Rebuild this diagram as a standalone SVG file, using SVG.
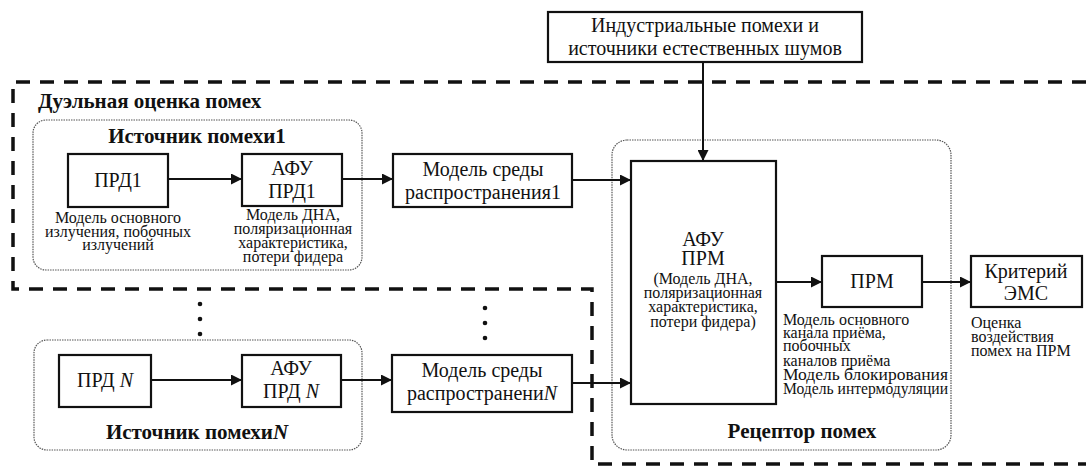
<svg xmlns="http://www.w3.org/2000/svg" width="1086" height="468" viewBox="0 0 1086 468">
<defs>
  <marker id="arr" viewBox="0 0 10 10" refX="10" refY="5" markerWidth="11" markerHeight="11" markerUnits="userSpaceOnUse" orient="auto">
    <path d="M0,0 L10,5 L0,10 z" fill="#111"/>
  </marker>
</defs>
<rect width="1086" height="468" fill="#fff"/>

<g id="boundary">
  <path d="M1086,82 L13,82 L13,289 L592,289 L592,464 L1086,464" fill="none" stroke="#111" stroke-width="3.5" stroke-dasharray="14 10"/>
  <text x="38" y="108" font-family="Times New Roman, Liberation Serif, Noto Serif CJK SC, serif" font-size="21" font-weight="bold" fill="#111">Дуэльная оценка помех</text>
</g>

<g id="ellipsis" fill="#111">
  <circle cx="200" cy="304" r="2.3"/>
  <circle cx="200" cy="319" r="2.3"/>
  <circle cx="200" cy="334" r="2.3"/>
  <circle cx="485" cy="308" r="2.3"/>
  <circle cx="485" cy="323" r="2.3"/>
  <circle cx="485" cy="338" r="2.3"/>
</g>

<g id="source1">
  <rect x="33" y="120" width="329" height="150" rx="13" fill="none" stroke="#555" stroke-width="1.2" stroke-dasharray="1.5 1"/>
  <text x="197" y="143" text-anchor="middle" font-family="Times New Roman, Liberation Serif, Noto Serif CJK SC, serif" font-size="21" font-weight="bold" fill="#111">Источник помехи1</text>
</g>
<g id="sourceN">
  <rect x="34" y="340" width="328" height="110" rx="13" fill="none" stroke="#555" stroke-width="1.2" stroke-dasharray="1.5 1"/>
  <text x="197" y="439" text-anchor="middle" font-family="Times New Roman, Liberation Serif, Noto Serif CJK SC, serif" font-size="21" font-weight="bold" fill="#111">Источник помехи<tspan font-style="italic">N</tspan></text>
</g>
<g id="receptor">
  <rect x="612" y="140" width="339" height="310" rx="15" fill="none" stroke="#555" stroke-width="1.2" stroke-dasharray="1.5 1"/>
  <text x="802" y="438" text-anchor="middle" font-family="Times New Roman, Liberation Serif, Noto Serif CJK SC, serif" font-size="21" font-weight="bold" fill="#111">Рецептор помех</text>
</g>

<g id="prd1">
  <rect x="68" y="154" width="100" height="53" fill="#fff" stroke="#111" stroke-width="2.2"/>
  <text x="118" y="187" text-anchor="middle" font-family="Times New Roman, Liberation Serif, Noto Serif CJK SC, serif" font-size="20" fill="#111">ПРД1</text>
  <text text-anchor="middle" font-family="Times New Roman, Liberation Serif, Noto Serif CJK SC, serif" font-size="16" fill="#111"><tspan x="118" y="223">Модель основного</tspan><tspan x="118" y="237">излучения, побочных</tspan><tspan x="118" y="250">излучений</tspan></text>
</g>
<g id="afu1">
  <rect x="242" y="154" width="100" height="52" fill="#fff" stroke="#111" stroke-width="2.2"/>
  <text text-anchor="middle" font-family="Times New Roman, Liberation Serif, Noto Serif CJK SC, serif" font-size="20" fill="#111"><tspan x="292" y="175">АФУ</tspan><tspan x="292" y="198">ПРД1</tspan></text>
  <text text-anchor="middle" font-family="Times New Roman, Liberation Serif, Noto Serif CJK SC, serif" font-size="16" fill="#111"><tspan x="293" y="220">Модель ДНА,</tspan><tspan x="293" y="234">поляризационная</tspan><tspan x="293" y="248">характеристика,</tspan><tspan x="293" y="262">потери фидера</tspan></text>
</g>
<g id="env1">
  <rect x="393" y="154" width="179" height="53" fill="#fff" stroke="#111" stroke-width="2.2"/>
  <text text-anchor="middle" font-family="Times New Roman, Liberation Serif, Noto Serif CJK SC, serif" font-size="20" fill="#111"><tspan x="483" y="176">Модель среды</tspan><tspan x="483" y="199">распространения1</tspan></text>
</g>

<g id="prdN">
  <rect x="59" y="355" width="92" height="52" fill="#fff" stroke="#111" stroke-width="2.2"/>
  <text x="105" y="387" text-anchor="middle" font-family="Times New Roman, Liberation Serif, Noto Serif CJK SC, serif" font-size="20" fill="#111">ПРД <tspan font-style="italic">N</tspan></text>
</g>
<g id="afuN">
  <rect x="242" y="355" width="99" height="52" fill="#fff" stroke="#111" stroke-width="2.2"/>
  <text text-anchor="middle" font-family="Times New Roman, Liberation Serif, Noto Serif CJK SC, serif" font-size="20" fill="#111"><tspan x="291" y="375">АФУ</tspan><tspan x="291" y="398">ПРД <tspan font-style="italic">N</tspan></tspan></text>
</g>
<g id="envN">
  <rect x="392" y="355" width="180" height="57" fill="#fff" stroke="#111" stroke-width="2.2"/>
  <text text-anchor="middle" font-family="Times New Roman, Liberation Serif, Noto Serif CJK SC, serif" font-size="20" fill="#111"><tspan x="482" y="377">Модель среды</tspan><tspan x="482" y="400">распространени<tspan font-style="italic">N</tspan></tspan></text>
</g>

<g id="industrial">
  <rect x="548" y="12" width="314" height="50" fill="#fff" stroke="#111" stroke-width="2.2"/>
  <text text-anchor="middle" font-family="Times New Roman, Liberation Serif, Noto Serif CJK SC, serif" font-size="20" fill="#111"><tspan x="705" y="32">Индустриальные помехи и</tspan><tspan x="705" y="55">источники естественных шумов</tspan></text>
</g>

<g id="afuPrm">
  <rect x="631" y="161" width="145" height="243" fill="#fff" stroke="#111" stroke-width="2.2"/>
  <text text-anchor="middle" font-family="Times New Roman, Liberation Serif, Noto Serif CJK SC, serif" font-size="20" fill="#111"><tspan x="703" y="246">АФУ</tspan><tspan x="703" y="265">ПРМ</tspan></text>
  <text text-anchor="middle" font-family="Times New Roman, Liberation Serif, Noto Serif CJK SC, serif" font-size="16" fill="#111"><tspan x="703" y="284">(Модель ДНА,</tspan><tspan x="703" y="298">поляризационная</tspan><tspan x="703" y="312">характеристика,</tspan><tspan x="703" y="327">потери фидера)</tspan></text>
</g>

<g id="prm">
  <rect x="822" y="256" width="100" height="51" fill="#fff" stroke="#111" stroke-width="2.2"/>
  <text x="872" y="288" text-anchor="middle" font-family="Times New Roman, Liberation Serif, Noto Serif CJK SC, serif" font-size="20" fill="#111">ПРМ</text>
  <text font-family="Times New Roman, Liberation Serif, Noto Serif CJK SC, serif" font-size="16" fill="#111"><tspan x="783" y="325">Модель основного</tspan><tspan x="783" y="338">канала приёма,</tspan><tspan x="783" y="351">побочных</tspan><tspan x="783" y="366">каналов приёма</tspan><tspan x="783" y="380" textLength="165" lengthAdjust="spacingAndGlyphs">Модель блокирования</tspan><tspan x="783" y="394" textLength="165" lengthAdjust="spacingAndGlyphs">Модель интермодуляции</tspan></text>
</g>

<g id="ems">
  <rect x="971" y="256" width="111" height="51" fill="#fff" stroke="#111" stroke-width="2.2"/>
  <text text-anchor="middle" font-family="Times New Roman, Liberation Serif, Noto Serif CJK SC, serif" font-size="20" fill="#111"><tspan x="1026" y="278">Критерий</tspan><tspan x="1026" y="300">ЭМС</tspan></text>
  <text font-family="Times New Roman, Liberation Serif, Noto Serif CJK SC, serif" font-size="16" fill="#111"><tspan x="971" y="328">Оценка</tspan><tspan x="971" y="342">воздействия</tspan><tspan x="971" y="356">помех на ПРМ</tspan></text>
</g>

<g id="connectors" fill="none" stroke="#111" stroke-width="2">
  <line x1="168" y1="179" x2="242" y2="179" marker-end="url(#arr)"/>
  <line x1="342" y1="179" x2="393" y2="179" marker-end="url(#arr)"/>
  <line x1="572" y1="180" x2="631" y2="180" marker-end="url(#arr)"/>
  <line x1="151" y1="380" x2="242" y2="380" marker-end="url(#arr)"/>
  <line x1="341" y1="380" x2="392" y2="380" marker-end="url(#arr)"/>
  <line x1="572" y1="383" x2="631" y2="383" marker-end="url(#arr)"/>
  <line x1="703" y1="62" x2="703" y2="161" marker-end="url(#arr)"/>
  <line x1="776" y1="282" x2="822" y2="282" marker-end="url(#arr)"/>
  <line x1="922" y1="282" x2="971" y2="282" marker-end="url(#arr)"/>
</g>
</svg>
